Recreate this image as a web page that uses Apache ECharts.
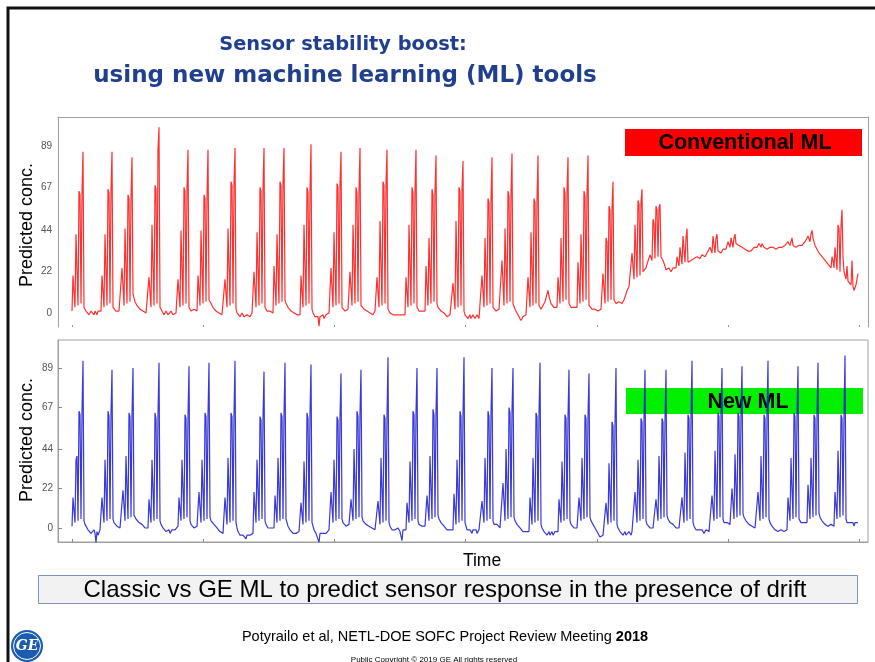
<!DOCTYPE html>
<html>
<head>
<meta charset="utf-8">
<script src="https://cdn.jsdelivr.net/npm/echarts@6/dist/echarts.min.js"></script>
<style>
html,body{margin:0;padding:0;background:#fff;}
#chart{width:875px;height:662px;}
</style>
</head>
<body>
<div id="chart"></div>
<script>
// Time ticks (sample index) and concentration tick labels
const xTicks = [0, 131, 262, 393, 525, 656, 787];
const yTicks = [0, 22, 44, 67, 89];

// Conventional ML prediction (one value per time sample)
const conventionalML = [
  1,20,21,3,42,43,4,65,63,5,64,86, 3,2,1,0,1,-1,0,1,2,0,-1,1,0,-1,1,2,1,
  1,20,19,3,42,41,4,66,64,5,65,86, 3,2,2,1,2,1,1,2,
  1,24,23,4,45,44,5,63,61,6,62,83, 10,8,6,5,4,3,3,2,2,1,1,0,1,0,0,
  0,19,20,3,47,46,4,68,66,5,87,99, 3,2,1,0,-1,0,1,0,-1,-1,0,1,0,-1,0,-1,0,
  0,18,19,3,44,43,4,67,65,5,66,87, 3,2,1,2,1,2,1,1,
  1,20,19,4,44,43,5,63,61,6,62,87, 7,6,5,4,3,2,2,1,1,0,0,-1,0,-1,0,
  0,18,19,3,45,44,4,70,68,5,69,88, 2,0,-1,-1,-2,-1,0,-1,-2,-1,-2,-1,0,-1,-2,-1,0,
  -1,22,21,3,43,42,4,67,65,5,66,88, 3,2,1,1,0,1,1,0,
  0,25,24,4,42,41,5,70,68,6,69,88, 7,5,4,3,2,2,1,1,0,0,-1,0,-1,0,-1,
  -1,20,21,3,47,46,4,67,64,5,65,90, 2,0,-1,-2,-1,-3,-2,-7,-2,-1,-2,-1,-3,-2,-1,-2,-1,0,
  0,24,23,3,43,42,4,69,67,5,68,86, 3,2,2,1,2,1,2,
  1,22,21,4,47,46,5,67,64,6,65,88, 4,3,3,2,2,1,1,1,0,0,1,0,-1,0,1,
  0,19,20,3,49,48,4,70,68,5,69,87, 2,1,0,-1,0,-1,-1,0,-1,0,-1,-1,0,-2,-1,0,-1,
  -1,19,18,3,47,46,4,67,64,5,65,87, 3,2,1,2,1,1,2,1,
  1,25,24,4,40,39,5,66,63,6,64,84, 5,3,3,2,1,1,0,0,-1,-1,-2,-1,-2,-1,-2,
  -2,16,17,2,49,48,3,67,65,4,66,81, 1,-1,-2,-1,-3,-2,-1,-3,-2,-1,-2,-3,-2,-1,-2,-3,-2,
  -2,20,19,3,40,39,4,61,59,5,60,83, 3,2,2,1,2,1,2,1,
  1,28,27,4,45,44,5,65,62,6,63,85, 5,4,2,1,0,-1,-2,-3,-4,-3,-2,-3,-2,-1,
  -1,19,18,3,43,42,4,61,59,5,60,84, 4,3,2,3,4,5,6,8,10,12,9,7,5,6,4,3,2,3,
  3,19,20,5,40,39,6,67,64,7,65,83, 5,4,3,3,4,3,2,3,
  3,27,26,5,42,41,6,65,62,7,63,84, 4,3,3,2,2,3,2,1,2,1,0,1,2,
  3,21,20,5,40,38,6,57,55,7,56,70, 7,6,5,6,5,6,7,6,5,6,7,8,10,12,13,14,15,
  15,32,31,18,47,46,19,60,58,20,59,66, 22,21,22,24,26,27,
  27,31,30,28,50,48,29,57,55,30,56,58, 30,29,28,27,25,23,22,23,24,23,22,23,24,23,24,
  24,30,29,25,35,34,26,41,40,27,40,45, 27,26,27,28,27,28,29,28,29,30,29,30,29,30,31,30,31,30,
  31,32,33,31,35,36,32,41,40,32,40,42, 33,32,33,32,33,34,
  33,35,34,34,38,37,35,40,39,35,40,42, 37,36,37,36,35,36,35,34,35,34,33,34,33,33,32,33,
  33,34,35,34,36,35,34,37,36,35,37,38, 35,34,35,34,35,34,35,35,34,35,34,35,34,35,34,35,35,
  34,35,36,35,36,37,35,38,37,36,38,40, 36,35,36,35,36,35,36,35,
  35,36,37,36,38,39,37,41,40,38,42,44, 40,38,36,35,34,33,32,31,31,30,29,29,28,27,27,26,25,25,
  24,30,28,24,35,34,23,47,45,22,46,55, 30,22,20,18,25,17,16,17,15,28,14,12,11,15,16,21
];

// New ML prediction (one value per time sample)
const newML = [
  1,17,18,3,38,40,4,65,63,5,64,93, 4,2,3,1,-1,-2,0,-3,-2,-4,-1,-3,-8,-2,-4,-3,-1,
  -1,17,18,3,38,39,4,65,62,5,63,88, 5,3,2,2,1,2,1,0,1,
  1,21,20,4,40,41,5,64,62,6,63,89, 7,6,5,4,4,3,3,2,2,1,1,0,1,0,
  0,16,17,3,38,39,4,64,61,5,63,92, 4,2,1,0,-1,0,-2,-1,-2,-1,-3,-2,-1,-2,0,-1,-2,-1,
  1,17,18,4,38,37,5,63,61,6,62,90, 4,2,1,1,0,1,0,1,
  0,20,19,3,38,39,4,64,62,5,63,92, 6,4,3,3,2,1,1,0,-1,-1,-2,-3,-2,-3,
  -2,17,18,2,39,40,3,64,62,4,63,93, 3,0,-2,-3,-4,-3,-5,-4,-3,-5,-6,-4,-5,-3,-4,-5,-3,
  -3,20,19,3,38,37,4,62,60,5,61,87, 4,2,1,0,1,0,0,1,0,
  0,18,19,3,39,40,4,64,62,5,63,92, 5,3,1,0,-1,-2,-2,-3,-2,-4,-3,-4,-3,-2,
  -2,14,15,2,37,38,3,64,61,4,63,91, 3,1,-1,-2,-3,-2,-3,-8,-3,-2,-4,-3,-2,-4,-3,-2,-3,-1,
  -1,20,19,3,38,39,4,62,60,5,61,86, 5,3,2,2,1,2,1,2,
  1,16,17,4,44,43,5,65,62,6,64,88, 6,4,3,3,2,2,1,1,0,1,0,-1,0,-1,0,
  -1,15,16,2,39,38,3,63,61,4,62,95, 3,1,0,-1,0,-1,-1,-2,-1,0,-1,-2,-1,-7,-1,0,-1,
  -1,14,15,3,37,38,4,65,63,5,64,89, 4,2,1,2,1,1,2,1,
  1,18,19,4,40,41,5,66,63,6,64,89, 7,5,4,3,3,2,1,1,0,-1,-1,-2,-1,-2,-1,
  -1,19,18,2,38,37,3,65,62,4,63,95, 3,1,-1,-1,-2,-1,-2,-3,-1,-2,-2,-1,-3,-2,-1,-2,
  -2,15,14,3,39,38,4,65,62,5,64,89, 4,2,1,1,2,1,1,0,1,
  1,25,24,4,44,43,5,67,64,6,65,89, 6,4,3,2,2,1,0,0,-1,-2,-2,-3,-2,-3,-2,
  -2,17,18,2,39,38,3,64,62,4,63,92, 2,0,-1,-2,-3,-2,-4,-3,-2,-4,-3,-2,-4,-3,-2,-3,-2,
  -2,16,17,3,37,36,4,63,61,5,62,88, 4,2,1,1,0,1,1,0,
  0,17,18,4,39,38,5,63,61,6,62,86, 6,4,3,2,1,0,-1,-2,-3,-3,-5,-4,-6,-4,-3,
  -3,14,13,2,36,37,3,59,57,4,58,89, 2,0,-1,-2,-3,-2,-4,-3,-2,-4,-3,-4,-2,-3,-4,-2,-3,
  -3,20,19,3,38,37,4,61,59,5,60,88, 4,2,1,1,0,0,1,0,0,
  0,16,15,4,40,39,5,61,59,6,60,88, 7,5,4,3,3,2,2,1,1,0,0,-1,0,-1,
  -1,17,18,3,42,43,4,63,61,5,62,93, 3,1,0,-1,-1,-2,-1,-2,-2,-1,-2,-3,-2,-1,-2,-1,-2,-1,
  -1,18,19,4,43,42,5,64,62,6,63,89, 5,3,3,2,3,2,3,2,
  2,22,21,5,41,40,6,64,62,7,63,90, 8,6,5,4,3,3,2,2,1,1,0,1,0,0,
  0,20,19,4,40,39,5,63,61,6,62,93, 5,3,2,1,1,0,-1,0,-1,-2,-1,-2,-1,-2,-1,-2,-1,-1,
  -1,17,18,4,39,40,5,64,62,6,63,90, 5,4,3,3,2,3,2,3,
  3,24,23,5,39,38,6,63,61,7,62,92, 8,6,5,4,3,3,2,2,2,1,1,1,2,1,1,
  1,20,21,5,43,42,6,63,61,7,62,96, 5,3,4,2,3,4,2,3,1,3,4,2,3
];

const chart = echarts.init(document.getElementById('chart'), null, {renderer: 'canvas'});

const yLabelStyle = {color: '#555', fontSize: 10, fontFamily: 'Liberation Sans, Arial, sans-serif'};
const frameLine = {show: true, onZero: false, lineStyle: {color: '#a0a0a0', width: 1}};

const option = {
  animation: false,
  backgroundColor: '#ffffff',
  title: [
    {text: 'Sensor stability boost:', left: 338, top: 30, textAlign: 'center',
     textStyle: {color: '#213f8f', fontSize: 19.4, fontWeight: 'bold', fontFamily: 'DejaVu Sans'}},
    {text: 'using new machine learning (ML) tools', left: 340, top: 60, textAlign: 'center',
     textStyle: {color: '#213f8f', fontSize: 23, fontWeight: 'bold', fontFamily: 'DejaVu Sans'}},
    {text: 'Time', left: 477, top: 547, textAlign: 'center',
     textStyle: {color: '#000', fontSize: 17.5, fontWeight: 'normal', fontFamily: 'Liberation Sans'}},
    {text: 'Potyrailo et al, NETL-DOE SOFC Project Review Meeting {b|2018}', left: 440, top: 624, textAlign: 'center',
     textStyle: {color: '#000', fontSize: 14.5, fontWeight: 'normal', fontFamily: 'Liberation Sans',
       rich: {b: {fontWeight: 'bold', fontSize: 14.5, fontFamily: 'Liberation Sans'}}}},
    {text: 'Public Copyright © 2019 GE All rights reserved', left: 429, top: 651, textAlign: 'center',
     textStyle: {color: '#000', fontSize: 8, fontWeight: 'normal', fontFamily: 'Liberation Sans'}}
  ],
  grid: [
    {left: 58, right: 7, top: 117, bottom: 335, show: false},
    {left: 58, right: 7, top: 340, bottom: 120, show: true, borderColor: '#a0a0a0', borderWidth: 1}
  ],
  xAxis: [
    {gridIndex: 0, type: 'value', min: -14, max: 796, position: 'bottom',
     axisLine: {show: false, onZero: false}, splitLine: {show: false}, axisLabel: {show: false},
     axisTick: {show: true, inside: true, length: 2, customValues: xTicks, lineStyle: {color: '#999'}}},
    {gridIndex: 0, type: 'value', min: -14, max: 796, position: 'top',
     axisLine: frameLine, splitLine: {show: false},
     axisLabel: {show: false}, axisTick: {show: false}},
    {gridIndex: 1, type: 'value', min: -14, max: 796, position: 'bottom',
     axisLine: frameLine, splitLine: {show: false}, axisLabel: {show: false},
     axisTick: {show: true, inside: true, length: 3, customValues: xTicks, lineStyle: {color: '#888'}}}
  ],
  yAxis: [
    {gridIndex: 0, type: 'value', min: -7.5, max: 104.5, position: 'left',
     axisLine: frameLine, splitLine: {show: false},
     axisTick: {show: false},
     axisLabel: Object.assign({customValues: yTicks, margin: 6}, yLabelStyle)},
    {gridIndex: 0, type: 'value', min: -7.5, max: 104.5, position: 'right',
     axisLine: frameLine, splitLine: {show: false},
     axisTick: {show: false}, axisLabel: {show: false}},
    {gridIndex: 1, type: 'value', min: -7.8, max: 104.6, position: 'left',
     axisLine: frameLine, splitLine: {show: false},
     axisTick: {show: true, inside: true, length: 4, customValues: yTicks, lineStyle: {color: '#888'}},
     axisLabel: Object.assign({customValues: yTicks, margin: 5}, yLabelStyle)}
  ],
  series: [
    {type: 'line', xAxisIndex: 0, yAxisIndex: 0, showSymbol: false, symbol: 'none',
     data: conventionalML.map((v, i) => [i, v]),
     lineStyle: {color: '#ff1a1a', width: 1.2, opacity: 0.9}},
    {type: 'line', xAxisIndex: 2, yAxisIndex: 2, showSymbol: false, symbol: 'none',
     data: newML.map((v, i) => [i, v]),
     lineStyle: {color: '#2222d4', width: 1.2, opacity: 0.9}}
  ],
  graphic: [
    {type: 'polyline', shape: {points: [[8, 662], [8, 8], [875, 8]]}, silent: true,
     style: {stroke: '#111', lineWidth: 3, fill: null}},
    {type: 'text', x: 27, y: 225, rotation: Math.PI / 2,
     style: {text: 'Predicted conc.', fill: '#000', font: '18px "Liberation Sans"', align: 'center', verticalAlign: 'middle'}},
    {type: 'text', x: 27, y: 440, rotation: Math.PI / 2,
     style: {text: 'Predicted conc.', fill: '#000', font: '18px "Liberation Sans"', align: 'center', verticalAlign: 'middle'}},
    {type: 'rect', shape: {x: 625, y: 129, width: 237, height: 27},
     style: {fill: '#ff0000'}},
    {type: 'text', x: 745, y: 143,
     style: {text: 'Conventional ML', fill: '#000', font: 'bold 21.5px "Liberation Sans"', align: 'center', verticalAlign: 'middle'}},
    {type: 'rect', shape: {x: 626, y: 388, width: 237, height: 26},
     style: {fill: '#00f000'}},
    {type: 'text', x: 748, y: 402,
     style: {text: 'New ML', fill: '#000', font: 'bold 21.5px "Liberation Sans"', align: 'center', verticalAlign: 'middle'}},
    {type: 'rect', shape: {x: 38.5, y: 575.5, width: 819, height: 28},
     style: {fill: '#f2f2f2', stroke: '#8090c0', lineWidth: 1}},
    {type: 'text', x: 445, y: 590,
     style: {text: 'Classic vs GE ML to predict sensor response in the presence of drift', fill: '#000',
       font: '24px "Liberation Sans"', align: 'center', verticalAlign: 'middle'}},
    {type: 'circle', shape: {cx: 27, cy: 646, r: 16}, style: {fill: '#1a5cb0'}},
    {type: 'circle', shape: {cx: 27, cy: 646, r: 13.5}, style: {fill: null, stroke: '#ffffff', lineWidth: 1}},
    {type: 'text', x: 27, y: 646,
     style: {text: 'GE', fill: '#fff', font: 'italic bold 14px "DejaVu Serif"', align: 'center', verticalAlign: 'middle'}}
  ]
};
chart.setOption(option);
</script>
</body>
</html>
